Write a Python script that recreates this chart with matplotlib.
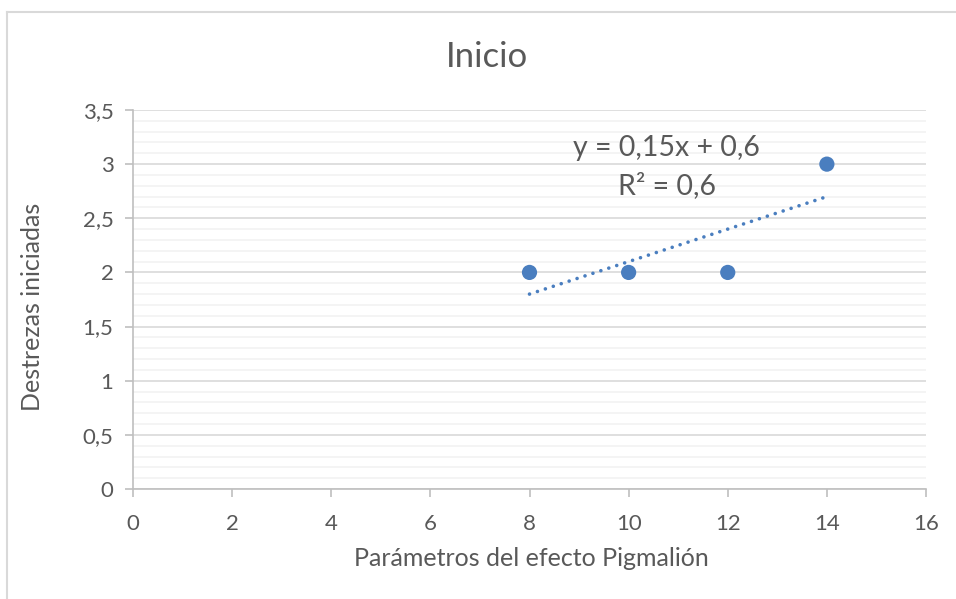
import matplotlib.pyplot as plt
import numpy as np
from matplotlib.lines import Line2D
from matplotlib.ticker import MultipleLocator, FuncFormatter

plt.rcParams['font.family'] = ['Lato', 'DejaVu Sans']

# datos
parametros = [8, 10, 12, 14]
destrezas = [2, 2, 2, 3]
x_ticks = [0, 2, 4, 6, 8, 10, 12, 14, 16]
y_ticks = [0, 0.5, 1, 1.5, 2, 2.5, 3, 3.5]

texto_gris = '#595959'
azul = '#4A7EBF'

fig = plt.figure(figsize=(9.56, 5.99), dpi=100)
ax = fig.add_axes([133 / 956, 1 - 489 / 599, (926 - 133) / 956, (489 - 110) / 599])

# linea de tendencia (ajuste lineal)
m, b = np.polyfit(parametros, destrezas, 1)
r2 = np.corrcoef(parametros, destrezas)[0, 1] ** 2
xt = np.array([min(parametros), max(parametros)])
ax.plot(xt, m * xt + b, linestyle=(0, (0.01, 2.3)), color=azul, lw=2.6,
        dash_capstyle='round', zorder=3)

ax.scatter(parametros, destrezas, s=120, color=azul, zorder=4, edgecolors='none')

ax.set_xlim(0, 16)
ax.set_ylim(0, 3.5)
ax.set_xticks(x_ticks)
ax.set_yticks(y_ticks)
ax.yaxis.set_minor_locator(MultipleLocator(0.1))
coma = FuncFormatter(lambda v, p: f'{v:g}'.replace('.', ','))
ax.xaxis.set_major_formatter(coma)
ax.yaxis.set_major_formatter(coma)

ax.grid(which='major', axis='y', color='#D9D9D9', lw=1.2, zorder=0)
ax.grid(which='minor', axis='y', color='#F2F2F2', lw=1.2, zorder=0)
ax.set_axisbelow(True)

for s in ['top', 'right']:
    ax.spines[s].set_visible(False)
for s in ['left', 'bottom']:
    ax.spines[s].set_color('#BFBFBF')
    ax.spines[s].set_linewidth(1.2)

ax.tick_params(which='major', length=6, width=1.2, color='#BFBFBF',
               labelcolor=texto_gris, labelsize=16)
ax.tick_params(axis='x', pad=12)
ax.tick_params(axis='y', pad=8)
ax.tick_params(which='minor', length=0)

fig.text(487 / 956, 1 - 57 / 599, 'Inicio', fontsize=25, color=texto_gris,
         ha='center', va='center')
ax.set_xlabel('Parámetros del efecto Pigmalión', fontsize=18, color=texto_gris)
ax.set_ylabel('Destrezas iniciadas', fontsize=18, color=texto_gris)
ax.xaxis.set_label_coords((531 - 133) / 793, (489 - 559) / 379)
ax.yaxis.set_label_coords((33 - 133) / 793, (489 - 307) / 379)
ax.xaxis.label.set_va('center')
ax.yaxis.label.set_va('center')

eq = f'y = {m:.2f}x + {b:.1f}'.replace('.', ',')
r2txt = f'R² = {r2:.1f}'.replace('.', ',')
ax.text(10.77, 3.15, eq, fontsize=20.5, color=texto_gris, ha='center', va='center')
ax.text(10.77, 2.805, r2txt, fontsize=20.5, color=texto_gris, ha='center', va='center')

# borde del grafico
fig.add_artist(Line2D([7 / 956, 7 / 956], [0, 1 - 11.5 / 599], color='#D9D9D9', lw=1.5))
fig.add_artist(Line2D([7 / 956, 1], [1 - 11.5 / 599, 1 - 11.5 / 599], color='#D9D9D9', lw=1.5))

fig.savefig('out.png', dpi=100)
